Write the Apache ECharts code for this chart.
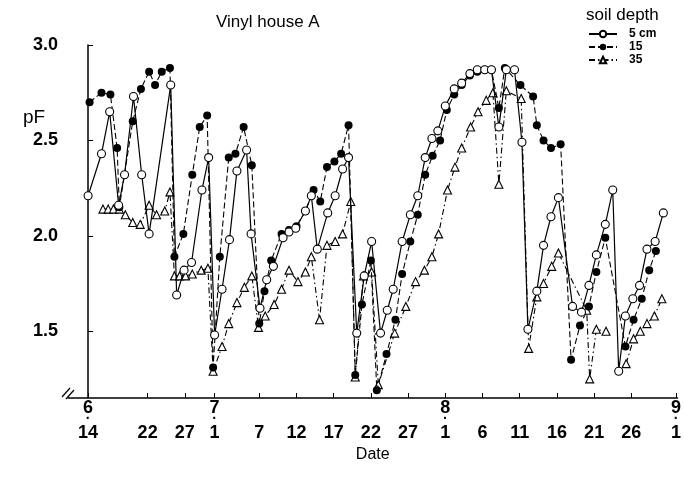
<!DOCTYPE html>
<html>
<head>
<meta charset="utf-8">
<title>Vinyl house A</title>
<script src="https://cdn.jsdelivr.net/npm/echarts@6/dist/echarts.min.js"></script>
<style>
  html, body { margin: 0; padding: 0; background: #fff; }
  #chart { width: 684px; height: 477px; }
</style>
</head>
<body>
<div id="chart"></div>
<script>
// days counted from June 14 (day 0)
const days5 = [0, 1.8, 2.9, 4.1, 4.9, 6.1, 7.2, 8.2, 11.1, 11.9, 12.9, 13.9, 15.3, 16.2, 17.0, 18.0, 19.0, 20.0, 21.3, 21.9,
  23.1, 24.0, 24.9, 26.2, 27.0, 27.9, 29.2, 30.0, 30.8, 32.2, 33.2, 34.2, 35.0, 36.1, 37.1, 38.1, 39.3, 40.2, 41.0, 42.2,
  43.3, 44.3, 45.3, 46.2, 47.0, 48.0, 49.2, 50.2, 51.3, 52.3, 53.3, 54.2, 55.2, 56.2, 57.3, 58.3, 59.1, 60.3, 61.2, 62.2,
  63.2, 65.1, 66.3, 67.3, 68.3, 69.5, 70.5, 71.3, 72.2, 73.2, 74.1, 75.1, 76.2, 77.3]
const pf5 = [2.21, 2.43, 2.65, 2.16, 2.32, 2.73, 2.32, 2.01, 2.79, 1.69, 1.82, 1.86, 2.24, 2.41, 1.48, 1.72, 1.98, 2.34, 2.45, 2.01,
  1.62, 1.77, 1.84, 1.99, 2.02, 2.04, 2.13, 2.21, 1.93, 2.12, 2.21, 2.35, 2.41, 1.49, 1.79, 1.97, 1.49, 1.61, 1.72, 1.97,
  2.11, 2.21, 2.41, 2.51, 2.55, 2.68, 2.77, 2.80, 2.85, 2.87, 2.87, 2.87, 2.57, 2.87, 2.87, 2.49, 1.51, 1.71, 1.95, 2.10,
  2.20, 1.63, 1.60, 1.74, 1.90, 2.06, 2.24, 1.29, 1.58, 1.67, 1.74, 1.93, 1.97, 2.12]

const days15 = [0.2, 1.8, 3.0, 3.9, 4.2, 6.0, 7.1, 8.2, 9.0, 9.9, 11.0, 11.6, 12.8, 14.0, 15.0, 16.0, 16.8, 17.7, 18.9, 19.8,
  20.9, 22.0, 23.0, 23.7, 24.6, 26.0, 27.0, 28.0, 29.2, 30.3, 31.2, 32.1, 33.1, 34.0, 35.0, 35.9, 36.8, 38.0, 38.8, 40.1,
  41.3, 42.2, 43.3, 44.3, 45.3, 46.3, 47.3, 48.2, 49.2, 50.2, 51.3, 52.3, 53.3, 54.2, 55.2, 56.0, 58.1, 59.8, 60.3, 61.2,
  62.2, 63.5, 64.9, 66.1, 67.3, 68.3, 69.5, 72.2, 73.3, 74.4, 75.4, 76.3]
const pf15 = [2.70, 2.75, 2.74, 2.46, 2.15, 2.60, 2.77, 2.86, 2.79, 2.86, 2.88, 1.89, 2.01, 2.32, 2.57, 2.63, 1.31, 1.89, 2.41, 2.43,
  2.57, 2.37, 1.54, 1.71, 1.87, 2.01, 2.03, 2.05, 2.13, 2.24, 2.18, 2.36, 2.39, 2.43, 2.58, 1.27, 1.64, 1.87, 1.19, 1.38,
  1.56, 1.80, 1.97, 2.11, 2.32, 2.42, 2.50, 2.66, 2.74, 2.79, 2.84, 2.86, 2.87, 2.87, 2.67, 2.88, 2.79, 2.73, 2.58, 2.50,
  2.46, 2.48, 1.35, 1.53, 1.63, 1.81, 1.99, 1.42, 1.56, 1.67, 1.82, 1.92]

const days35 = [2.0, 2.7, 3.4, 4.2, 5.0, 6.0, 7.0, 8.2, 9.2, 10.3, 11.0, 11.6, 12.3, 13.1, 14.0, 15.2, 16.1, 16.8, 18.0, 18.9,
  20.0, 21.0, 22.0, 22.9, 23.8, 25.0, 26.0, 27.0, 28.2, 29.2, 30.0, 31.1, 32.1, 33.2, 34.2, 35.3, 35.9, 37.0, 38.1, 39.0,
  41.2, 42.7, 44.0, 45.2, 46.2, 47.1, 48.3, 49.3, 50.2, 51.4, 52.4, 53.5, 54.4, 55.2, 56.2, 58.2, 59.2, 60.3, 61.2, 62.3,
  63.2, 67.0, 67.4, 68.3, 69.6, 70.5, 72.3, 73.3, 74.2, 75.1, 76.1, 77.1]
const pf35 = [2.14, 2.14, 2.14, 2.14, 2.11, 2.07, 2.06, 2.16, 2.11, 2.13, 2.23, 1.79, 1.79, 1.79, 1.80, 1.82, 1.83, 1.29, 1.42, 1.54,
  1.65, 1.73, 1.79, 1.52, 1.58, 1.64, 1.72, 1.82, 1.76, 1.81, 1.89, 1.56, 1.95, 1.97, 2.01, 2.18, 1.26, 1.79, 1.81, 1.22,
  1.49, 1.63, 1.76, 1.82, 1.89, 2.01, 2.24, 2.36, 2.46, 2.57, 2.65, 2.71, 2.75, 2.27, 2.76, 2.72, 1.41, 1.68, 1.75, 1.84,
  1.91, 1.61, 1.25, 1.51, 1.50, null, 1.33, 1.46, 1.50, 1.54, 1.58, 1.67]

// x axis ticks
const tickDays = [0, 8, 13, 17, 23, 28, 33, 38, 43, 48, 53, 58, 63, 68, 73, 79]
const dayLabels = ['14', '22', '27', '1', '7', '12', '17', '22', '27', '1', '6', '11', '16', '21', '26', '1']
const monthLabels = { 0: '6', 17: '7', 48: '8', 79: '9' }
const yTicks = [1.5, 2.0, 2.5, 3.0]

const pairs = (xs, ys) => xs.map((x, i) => [x, ys[i] === null ? '-' : ys[i]])
const font = 'Liberation Sans, Arial, sans-serif'

const chart = echarts.init(document.getElementById('chart'))
chart.setOption({
  animation: false,
  title: [
    { text: 'Vinyl house A', left: 211, top: 9, textStyle: { fontFamily: font, fontSize: 17, fontWeight: 'normal', color: '#000' } },
    { text: 'soil depth', left: 581, top: 2, textStyle: { fontFamily: font, fontSize: 17, fontWeight: 'normal', color: '#000' } }
  ],
  legend: {
    data: ['5 cm', '15', '35'],
    orient: 'vertical',
    left: 583,
    top: 23,
    itemWidth: 28,
    itemHeight: 8,
    itemGap: 1,
    textStyle: { fontFamily: font, fontSize: 12, fontWeight: 'bold', color: '#000', padding: [0, 0, 0, 7] }
  },
  grid: { left: 68, right: 4, top: 45, bottom: 79 },
  xAxis: {
    type: 'value',
    min: -2.7,
    max: 79.2,
    name: 'Date',
    nameLocation: 'middle',
    nameGap: 47,
    nameTextStyle: { fontFamily: font, fontSize: 16, color: '#000' },
    axisLine: { lineStyle: { color: '#000', width: 1.5 } },
    axisTick: { inside: true, length: 5, customValues: tickDays, lineStyle: { color: '#000' } },
    splitLine: { show: false },
    axisLabel: {
      customValues: tickDays,
      margin: 3,
      formatter: (v) => {
        const i = tickDays.findIndex(t => Math.abs(t - v) < 1e-6)
        if (i < 0) return ''
        const m = monthLabels[tickDays[i]]
        return m ? '{m|' + m + '}\n{p|·}\n{d|' + dayLabels[i] + '}' : '{m| }\n{p| }\n{d|' + dayLabels[i] + '}'
      },
      rich: {
        m: { fontFamily: font, fontSize: 18, fontWeight: 'bold', color: '#000', lineHeight: 15 },
        p: { fontFamily: font, fontSize: 14, fontWeight: 'bold', color: '#000', lineHeight: 7 },
        d: { fontFamily: font, fontSize: 18, fontWeight: 'bold', color: '#000', lineHeight: 20 }
      }
    }
  },
  yAxis: {
    type: 'value',
    min: 1.15,
    max: 3.0,
    axisLine: { show: true, lineStyle: { color: '#000', width: 1.5 } },
    axisTick: { show: true, inside: true, length: 5, customValues: yTicks, lineStyle: { color: '#000' } },
    splitLine: { show: false },
    axisLabel: {
      customValues: yTicks,
      margin: 10,
      formatter: (v) => v.toFixed(1),
      fontFamily: font,
      fontSize: 18,
      fontWeight: 'bold',
      color: '#000'
    }
  },
  graphic: [
    { type: 'text', left: 23, top: 108, style: { text: 'pF', fontFamily: font, fontSize: 19, fill: '#000' } },
    { type: 'line', shape: { x1: 62, y1: 397, x2: 70, y2: 388 }, style: { stroke: '#000', lineWidth: 1.2 } },
    { type: 'line', shape: { x1: 66, y1: 399, x2: 74, y2: 390 }, style: { stroke: '#000', lineWidth: 1.2 } }
  ],
  series: [
    {
      name: '35',
      type: 'line',
      data: pairs(days35, pf35),
      symbol: 'triangle',
      symbolSize: 8,
      itemStyle: { color: '#fff', borderColor: '#000', borderWidth: 1.1 },
      lineStyle: { color: '#000', width: 1.1, type: [6, 3, 1.5, 3] },
      z: 2
    },
    {
      name: '15',
      type: 'line',
      data: pairs(days15, pf15),
      symbol: 'circle',
      symbolSize: 8,
      itemStyle: { color: '#000' },
      lineStyle: { color: '#000', width: 1.1, type: [6, 3] },
      z: 3
    },
    {
      name: '5 cm',
      type: 'line',
      data: pairs(days5, pf5),
      symbol: 'circle',
      symbolSize: 8,
      itemStyle: { color: '#fff', borderColor: '#000', borderWidth: 1.1 },
      lineStyle: { color: '#000', width: 1.2 },
      z: 4
    }
  ]
})
</script>
</body>
</html>
